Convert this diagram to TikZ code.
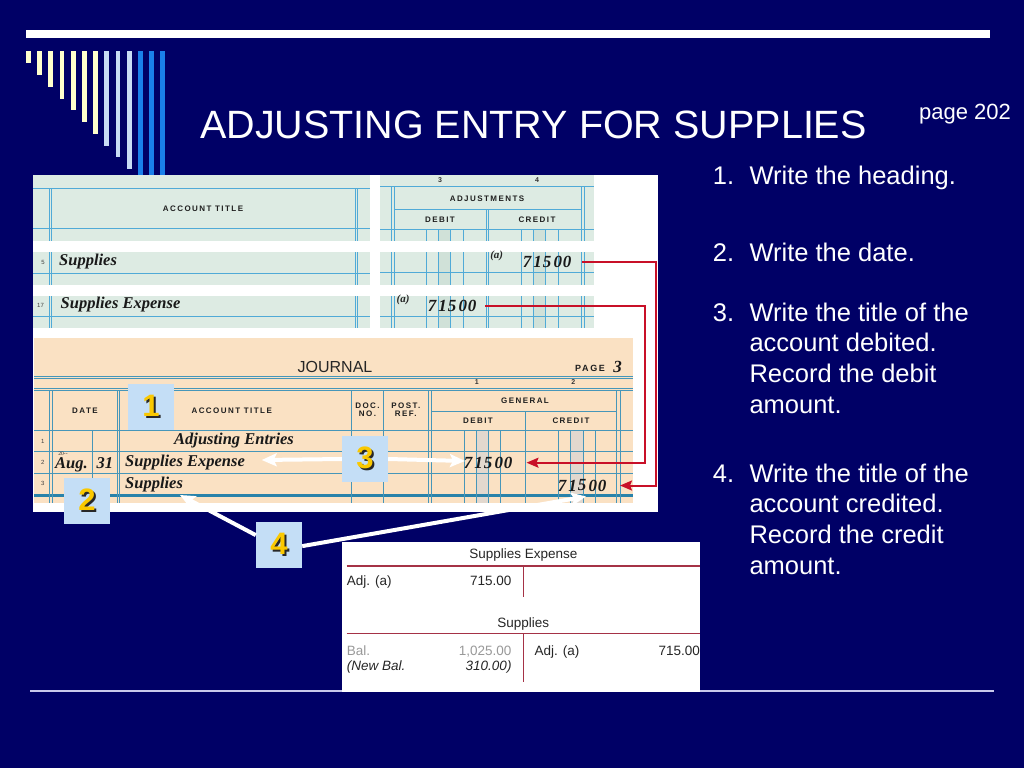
\documentclass[tikz,border=0pt]{standalone}
\usepackage{fontspec}
\setmainfont{Liberation Sans}
\newfontfamily\serfont{Liberation Serif}
\newfontfamily\formfont[LetterSpace=18]{Liberation Sans}
\usetikzlibrary{arrows.meta}
\definecolor{bgnavy}{RGB}{0,0,102}
\definecolor{cream}{RGB}{255,255,204}
\definecolor{paleblue}{RGB}{200,220,245}
\definecolor{brightblue}{RGB}{26,128,234}
\definecolor{wsgreen}{RGB}{221,235,227}
\definecolor{wsline}{RGB}{80,170,215}
\definecolor{wsshade}{RGB}{208,225,216}
\definecolor{jpeach}{RGB}{250,225,195}
\definecolor{jline}{RGB}{70,150,185}
\definecolor{jthick}{RGB}{40,130,170}
\definecolor{jshade}{RGB}{226,216,206}
\definecolor{conred}{RGB}{200,16,40}
\definecolor{tred}{RGB}{165,50,70}
\definecolor{badgefill}{RGB}{196,222,246}
\definecolor{goldc}{RGB}{250,200,0}
\definecolor{shadc}{RGB}{40,40,40}
\definecolor{botline}{RGB}{200,200,235}
\newcommand\bnum[1]{\makebox[0pt][l]{\kern2pt\raisebox{-2pt}{\textcolor{shadc}{#1}}}\textcolor{goldc}{#1}}
\newcommand\amtat[3]{%
  \node[amt] (#1a) at ({#2+4},#3) {7};
  \node[amt] (#1b) at ({#2+14.5},#3) {1};
  \node[amt] (#1c) at ({#2+24},#3) {5};
  \node[amt] (#1d) at ({#2+39.5},#3) {0\kern0.8pt0};}
\begin{document}
\begin{tikzpicture}[x=1pt,y=-1pt,
  titlestyle/.style={text=white, font=\fontsize{39.5}{48}\selectfont, inner sep=0},
  pagelbl/.style={text=white, font=\fontsize{22}{26}\selectfont, inner sep=0},
  item/.style={text=white, font=\fontsize{25.5}{30.7}\selectfont, inner sep=0, anchor=base west},
  form/.style={text=black!88, font=\formfont\bfseries\fontsize{8}{9.5}\selectfont, inner sep=0},
  colnum/.style={text=black!80, font=\bfseries\fontsize{7}{8}\selectfont, inner sep=0},
  rownum/.style={text=black!75, font=\fontsize{6}{7}\selectfont, inner sep=0},
  entry/.style={text=black!90, font=\serfont\bfseries\itshape\fontsize{16.5}{18}\selectfont, inner sep=0},
  amt/.style={text=black!90, font=\serfont\bfseries\itshape\fontsize{17}{19}\selectfont, inner sep=0},
  aref/.style={text=black!85, font=\serfont\bfseries\itshape\fontsize{11}{12}\selectfont, inner sep=0},
  tacc/.style={text=black!85, font=\fontsize{13.5}{16}\selectfont, inner sep=0},
  badge/.style={fill=badgefill, minimum size=46pt, inner sep=0, font=\bfseries\fontsize{31}{31}\selectfont},
  wsl/.style={draw=wsline, line width=0.9pt},
  wsthin/.style={draw=wsline, line width=0.6pt},
  jl/.style={draw=jline, line width=0.9pt},
  jthin/.style={draw=jline, line width=0.6pt},
  redcon/.style={draw=conred, line width=2pt, -{Stealth[length=12pt,width=10pt,inset=2pt]}},
  warrow/.style={draw=white, line width=4pt, -{Stealth[length=15pt,width=13pt,inset=3pt]}},
  tline/.style={draw=tred, line width=1.6pt}]

% background
\fill[bgnavy] (0,0) rectangle (1024,768);
\useasboundingbox (0,0) rectangle (1024,768);

% top decoration
\fill[white] (26,30) rectangle (990,38);
\foreach \i in {0,...,6} {\fill[cream] ({26+11.2*\i},51) rectangle ({30.7+11.2*\i},{63.3+11.75*\i});}
\foreach \i in {7,...,9} {\fill[paleblue] ({26+11.2*\i},51) rectangle ({30.7+11.2*\i},{63.3+11.75*\i});}
\foreach \i in {10,...,12} {\fill[brightblue] ({26+11.2*\i},51) rectangle ({30.7+11.2*\i},180);}

% bottom line
\draw[botline, line width=2pt] (30,690.5) -- (994,690.5);

% title
\node[titlestyle, anchor=base west] (title) at (200,138.5) {ADJUSTING ENTRY FOR SUPPLIES};
\node[pagelbl, anchor=base west] (page) at (919,119.5) {page 202};

% list
\node[item] (n1) at (712.7,184.5) {1.};
\node[item] (t1) at (749.3,184.5) {Write the heading.};
\node[item] (n2) at (712.7,261) {2.};
\node[item] (t2) at (749.3,261) {Write the date.};
\node[item] (n3) at (712.7,321) {3.};
\node[item] (t3a) at (749.3,321) {Write the title of the};
\node[item] (t3b) at (749.3,351.7) {account debited.};
\node[item] (t3c) at (749.3,382.4) {Record the debit};
\node[item] (t3d) at (749.3,413.1) {amount.};
\node[item] (n4) at (712.7,482) {4.};
\node[item] (t4a) at (749.3,482) {Write the title of the};
\node[item] (t4b) at (749.3,512.7) {account credited.};
\node[item] (t4c) at (749.3,543.4) {Record the credit};
\node[item] (t4d) at (749.3,574.1) {amount.};

% picture background
\fill[white] (33,175) rectangle (658,512);

% ---------- worksheet ----------
\foreach \a/\b in {175/241,252/285,296/328} {
  \fill[wsgreen] (33,\a) rectangle (370,\b);
  \fill[wsgreen] (380,\a) rectangle (594,\b);
}
\foreach \a/\b in {229.3/241,252/285,296/328} {
  \fill[wsshade] (438.3,\a) rectangle (450.7,\b);
  \fill[wsshade] (533.3,\a) rectangle (545.7,\b);
}
\draw[wsl] (33,188) -- (370,188);
\draw[wsl] (33,228.3) -- (370,228.3);
\draw[wsl] (33,273) -- (370,273);
\draw[wsl] (33,316.7) -- (370,316.7);
\foreach \a/\b in {188/241,252/285,296/328} {
  \foreach \x in {49.3,51.8,355,357.7} {\draw[wsl] (\x,\a) -- (\x,\b);}
}
\draw[wsl] (380,186.7) -- (594,186.7);
\draw[wsl] (394.3,209) -- (581.7,209);
\draw[wsl] (380,229.3) -- (594,229.3);
\draw[wsl] (380,272.7) -- (594,272.7);
\draw[wsl] (380,316.7) -- (594,316.7);
\foreach \a/\b in {186.7/241,252/285,296/328} {
  \foreach \x in {391.7,394.3,581.7,584.3} {\draw[wsl] (\x,\a) -- (\x,\b);}
}
\foreach \a/\b in {209/241,252/285,296/328} {
  \foreach \x in {486,488.5} {\draw[wsl] (\x,\a) -- (\x,\b);}
}
\foreach \a/\b in {229.3/241,252/285,296/328} {
  \foreach \x in {426,438.3,450.7,463.3,521,533.3,545.7,558.3} {\draw[wsthin] (\x,\a) -- (\x,\b);}
}
\node[form] (wsacct) at (203,209) {ACCOUNT TITLE};
\node[colnum] (wsc3) at (440,180.5) {3};
\node[colnum] (wsc4) at (537,180.5) {4};
\node[form] (wsadj) at (487,199) {ADJUSTMENTS};
\node[form] (wsdeb) at (440,219.3) {DEBIT};
\node[form] (wscre) at (537,219.3) {CREDIT};
\node[rownum] (wsr5) at (43,262) {5};
\node[rownum] (wsr17) at (40.5,305) {17};
\node[entry, anchor=west] (wssup) at (59,262) {Supplies};
\node[entry, anchor=west] (wssupex) at (60.5,305) {Supplies Expense};
\node[aref] (wsa5) at (496.7,256) {(a)};
\node[aref] (wsa17) at (403,300) {(a)};
\amtat{wsv}{523}{261.7}
\amtat{wsw}{428}{305.7}

% ---------- journal ----------
\fill[jpeach] (34,338) rectangle (633,503);
\fill[jshade] (476,430) rectangle (488.3,503);
\fill[jshade] (570.7,430) rectangle (583.3,503);
\foreach \y in {376,378.3,388.3,390.6,430,451.7,473.3} {\draw[jl] (34,\y) -- (633,\y);}
\draw[draw=jthick, line width=2.5pt] (34,495.5) -- (633,495.5);
\draw[jl] (431.7,411) -- (616.7,411);
\foreach \x in {49.3,52,117.3,119.6,351.7,383.3,428.3,431.7,616.7,620} {\draw[jl] (\x,390.6) -- (\x,503);}
\draw[jl] (525,411) -- (525,503);
\draw[jl] (92.7,430) -- (92.7,503);
\foreach \x in {464,476,488.3,500.7,558.3,570.7,583.3,595.7} {\draw[jthin] (\x,430) -- (\x,503);}
\node[text=black!85, font=\fontsize{16}{18}\selectfont, inner sep=0] (jtitle) at (335,366.7) {JOURNAL};
\node[form, anchor=base west, font=\formfont\bfseries\fontsize{9}{10}\selectfont] (jpage) at (575,371.5) {PAGE};
\node[amt] (jpg3) at (617.5,366.7) {3};
\node[colnum] (jc1) at (476.7,382) {1};
\node[colnum] (jc2) at (573.3,382) {2};
\node[form] (jdate) at (85,411) {DATE};
\node[form] (jacct) at (231.7,411) {ACCOUNT TITLE};
\node[form] (jdoc) at (367.5,405.5) {DOC.};
\node[form] (jno) at (367.5,414) {NO.};
\node[form] (jpost) at (405.8,405.5) {POST.};
\node[form] (jref) at (405.8,414) {REF.};
\node[form] (jgen) at (525,401) {GENERAL};
\node[form] (jdeb) at (478,420.5) {DEBIT};
\node[form] (jcre) at (571,420.5) {CREDIT};
\node[rownum] (jr1) at (42.7,441.7) {1};
\node[rownum] (jr2) at (42.7,462.7) {2};
\node[rownum] (jr3) at (42.7,483.3) {3};
\node[entry] (jadj) at (234,441) {Adjusting Entries};
\node[text=black!85, font=\serfont\fontsize{5.5}{6}\selectfont, inner sep=0] (jyr) at (63,453.5) {20--};
\node[entry, anchor=base west] (jaug) at (55,468) {Aug.};
\node[entry, anchor=base west] (j31) at (96.5,468) {31};
\node[entry, anchor=west] (jsupex) at (125,463) {Supplies Expense};
\node[entry, anchor=west] (jsup) at (125,485) {Supplies};
\amtat{jd}{464}{463.3}
\amtat{jc}{558}{485.5}

% red connectors
\coordinate (ws5end) at (582,261.7);
\coordinate (ws17end) at (485,305.7);
\coordinate (j3tip) at (620,485.5);
\coordinate (j2tip) at (526.5,462.7);
\draw[redcon] (ws5end) -- ++(74,0) |- (j3tip);
\draw[redcon] (ws17end) -- ++(160,0) |- (j2tip);

% ---------- T accounts ----------
\fill[white] (341.5,542) rectangle (700,691.5);
\node[tacc, anchor=base] (tse) at (523.3,558.3) {Supplies Expense};
\draw[tline] (346.7,566) -- (700,566);
\draw[tline] (523.3,566) -- (523.3,596.7);
\node[tacc, anchor=base west] (tseadj) at (346.7,585) {Adj. (a)};
\node[tacc, anchor=base east] (tseamt) at (511.7,585) {715.00};
\node[tacc, anchor=base] (ts) at (523.3,627.3) {Supplies};
\draw[tline] (346.7,633.3) -- (700,633.3);
\draw[tline] (523.3,633.3) -- (523.3,681.7);
\node[tacc, anchor=base west, text=black!40] (tsbal) at (346.7,655) {Bal.};
\node[tacc, anchor=base east, text=black!40] (tsbalamt) at (511.7,655) {1,025.00};
\node[tacc, anchor=base west, font=\itshape\fontsize{13.5}{16}\selectfont] (tsnew) at (346.7,670) {(New Bal.};
\node[tacc, anchor=base east, font=\itshape\fontsize{13.5}{16}\selectfont] (tsnewamt) at (511.7,670) {310.00)};
\node[tacc, anchor=base west] (tsadj) at (534.3,655) {Adj. (a)};
\node[tacc, anchor=base east] (tsadjamt) at (700,655) {715.00};

% ---------- badges ----------
\node[badge] (b1) at (151,407) {\bnum{1}};
\node[badge] (b2) at (87,501) {\bnum{2}};
\node[badge] (b3) at (365,459) {\bnum{3}};
\node[badge] (b4) at (279,544.5) {\bnum{4}};

% white arrows
\coordinate (tSE) at (261.7,460);
\coordinate (tDb) at (465,461);
\coordinate (tSup) at (180,495);
\coordinate (tCr) at (586,496.5);
\draw[warrow] (b3.west) -- (tSE);
\draw[warrow] (b3.east) -- (tDb);
\draw[warrow] (b4.158) -- (tSup);
\draw[warrow] (b4.356) -- (tCr);
\end{tikzpicture}
\end{document}
